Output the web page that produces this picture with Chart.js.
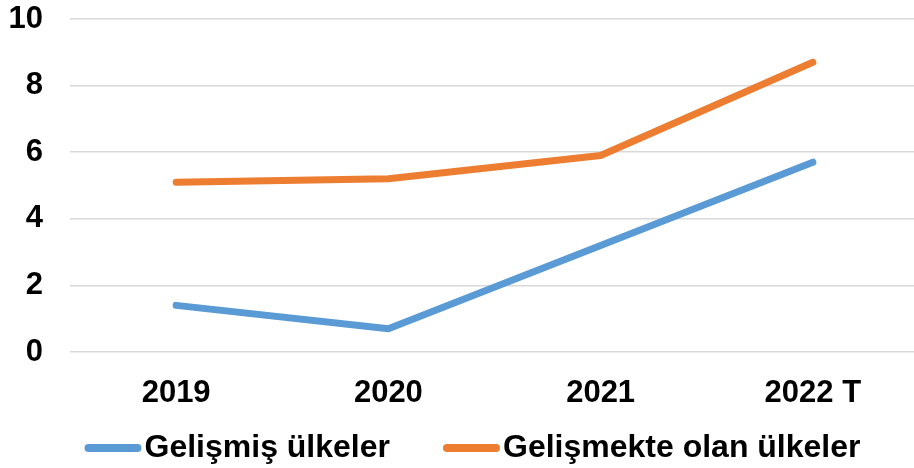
<!DOCTYPE html>
<html><head><meta charset="utf-8">
<script src="https://cdn.jsdelivr.net/npm/chart.js@4"></script>
<style>html,body{margin:0;padding:0;overflow:hidden;background:#fff;width:914px;height:468px}#wrap{width:919px;height:468px}</style>
</head><body><div id="wrap"><canvas id="c" width="919" height="468"></canvas></div>
<script>
const categories = ['2019', '2020', '2021', '2022 T'];
const seriesNames = ['Gelişmiş ülkeler', 'Gelişmekte olan ülkeler'];
const developed = [1.4, 0.7, 3.2, 5.7];
const developing = [5.1, 5.2, 5.9, 8.7];
const yTicks = [0, 2, 4, 6, 8, 10];
const seriesColors = ['#5b9bd5', '#ed7d31'];

const FONT_FAMILY = '"Liberation Sans", Arial, sans-serif';
const FONT_SIZE = 31;
const LEGEND_FONT_SIZE = 32;

const lineLegend = {
  id: 'lineLegend',
  afterDraw(chart) {
    const ctx = chart.ctx;
    ctx.save();
    ctx.font = 'bold ' + LEGEND_FONT_SIZE + 'px ' + FONT_FAMILY;
    const markerLen = 57, gapText = 3, itemGap = 53, lw = 8;
    const items = chart.data.datasets.map(ds => ({label: ds.label, color: ds.borderColor, w: ctx.measureText(ds.label).width}));
    const total = items.reduce((s, it) => s + markerLen + gapText + it.w, 0) + itemGap * (items.length - 1);
    let x = 472.5 - total / 2;
    const yMid = 448, yBase = 457;
    items.forEach(it => {
      ctx.strokeStyle = it.color; ctx.lineWidth = lw; ctx.lineCap = 'round';
      ctx.beginPath(); ctx.moveTo(x + lw / 2, yMid); ctx.lineTo(x + markerLen - lw / 2, yMid); ctx.stroke();
      x += markerLen + gapText;
      ctx.fillStyle = '#000'; ctx.textBaseline = 'alphabetic'; ctx.textAlign = 'left';
      ctx.fillText(it.label, x, yBase);
      x += it.w + itemGap;
    });
    ctx.restore();
  }
};

const tickFont = {family: FONT_FAMILY, size: FONT_SIZE, weight: 'bold'};

new Chart(document.getElementById('c'), {
  type: 'line',
  data: {
    labels: categories,
    datasets: [
      {label: seriesNames[0], data: developed, borderColor: seriesColors[0], backgroundColor: seriesColors[0]},
      {label: seriesNames[1], data: developing, borderColor: seriesColors[1], backgroundColor: seriesColors[1]}
    ]
  },
  options: {
    responsive: false,
    animation: false,
    devicePixelRatio: 1,
    layout: {padding: {top: 19, left: 0, right: 0, bottom: 56}},
    elements: {
      line: {borderWidth: 7, tension: 0, borderCapStyle: 'round', borderJoinStyle: 'round', fill: false},
      point: {radius: 0, hoverRadius: 0}
    },
    plugins: {legend: {display: false}, tooltip: {enabled: false}},
    scales: {
      x: {
        type: 'category',
        offset: true,
        grid: {display: false},
        border: {display: false},
        ticks: {font: tickFont, color: '#000', padding: 15, maxRotation: 0, autoSkip: false},
        afterFit(s) { s.height = 60; s.paddingLeft = 0; s.paddingRight = 0; }
      },
      y: {
        min: 0, max: 10,
        grid: {color: '#d9d9d9', lineWidth: 1.5, drawTicks: false},
        border: {display: false},
        ticks: {font: tickFont, color: '#000', padding: 27},
        afterBuildTicks(s) { s.ticks = yTicks.map(v => ({value: v})); },
        afterFit(s) { s.width = 70; s.paddingTop = 0; s.paddingBottom = 0; }
      }
    }
  },
  plugins: [lineLegend]
});
</script>
</body></html>
